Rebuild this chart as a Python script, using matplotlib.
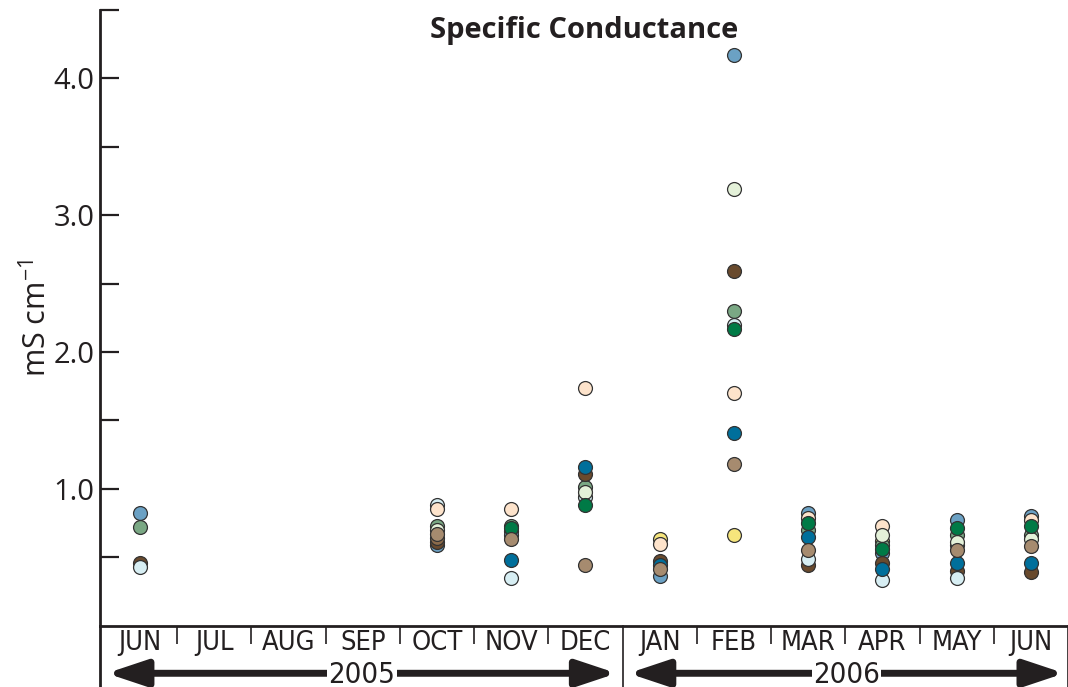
import numpy as np
import matplotlib
matplotlib.use("Agg")
import matplotlib.pyplot as plt
from matplotlib.ticker import FixedLocator

plt.rcParams['font.family'] = ['Open Sans', 'DejaVu Sans']

# meses del eje x (jun 2005 - jun 2006)
meses = ["JUN", "JUL", "AUG", "SEP", "OCT", "NOV", "DEC",
         "JAN", "FEB", "MAR", "APR", "MAY", "JUN"]
# meses con muestreo (indice de mes)
x_muestreo = [0, 4, 5, 6, 7, 8, 9, 10, 11, 12]

nan = np.nan
# conductancia especifica por sitio (mS/cm)
amarillo = [nan, nan, 0.69, nan, 0.63, 0.66, nan, 0.62, 0.59, nan]
azul_acero = [0.82, 0.59, 0.66, nan, 0.36, 4.17, 0.82, 0.53, 0.77, 0.80]
salvia = [0.72, 0.73, 0.73, 1.01, nan, 2.30, 0.70, 0.59, 0.66, 0.66]
cafe_oscuro = [0.46, 0.61, nan, 1.11, 0.47, 2.59, 0.44, 0.46, 0.40, 0.39]
celeste = [0.43, 0.88, 0.35, 0.94, nan, 2.20, 0.49, 0.33, 0.35, nan]
durazno = [nan, 0.85, 0.85, 1.74, 0.60, 1.70, 0.79, 0.73, nan, 0.77]
verde_palido = [nan, 0.70, nan, 0.98, nan, 3.19, nan, 0.66, 0.61, 0.63]
cafe_medio = [nan, 0.64, nan, nan, nan, nan, nan, nan, nan, nan]
verde_oscuro = [nan, nan, 0.71, 0.88, nan, 2.17, 0.75, 0.56, 0.71, 0.73]
petroleo = [nan, nan, 0.48, 1.16, 0.44, 1.41, 0.65, 0.41, 0.46, 0.46]
canela = [nan, 0.67, 0.63, 0.44, 0.41, 1.18, 0.55, nan, 0.55, 0.58]

series = [
    (amarillo, "#f6e57c"),
    (azul_acero, "#6ba1c4"),
    (salvia, "#7aa884"),
    (cafe_oscuro, "#694a2d"),
    (celeste, "#d7eef3"),
    (durazno, "#fde3cb"),
    (verde_palido, "#e4f1d9"),
    (cafe_medio, "#8c6b4b"),
    (verde_oscuro, "#007a46"),
    (petroleo, "#006f9b"),
    (canela, "#a68b6f"),
]

fig = plt.figure(figsize=(10.68, 6.87), dpi=100)
ax = fig.add_axes([0.0936, 0.0894, 0.9064, 0.896])

for valores, color in series:
    ax.scatter(x_muestreo, valores, s=100, color=color, edgecolor="#333333",
               linewidth=0.9, zorder=3, clip_on=False)

ax.set_xlim(-0.54, 12.5)
ax.set_ylim(0, 4.5)

for lado in ["top", "right"]:
    ax.spines[lado].set_visible(False)
ax.spines["left"].set_linewidth(2)
ax.spines["bottom"].set_linewidth(2)
ax.spines["left"].set_color("#231f20")
ax.spines["bottom"].set_color("#231f20")

# eje y
ax.yaxis.set_major_locator(FixedLocator([1, 2, 3, 4]))
ax.yaxis.set_minor_locator(FixedLocator([0.5, 1.5, 2.5, 3.5, 4.5]))
ax.set_yticklabels(["1.0", "2.0", "3.0", "4.0"], fontsize=21, color="#231f20")
ax.tick_params(axis="y", which="both", direction="in", length=14, width=1.6,
               color="#231f20", pad=4)
ax.set_ylabel(r"mS cm$^{\mathregular{-1}}$", fontsize=22, color="#231f20",
              labelpad=0)

# eje x: meses
condensada = dict(family="DejaVu Sans", stretch="condensed")
ax.set_xticks(range(len(meses)))
ax.set_xticklabels(meses, fontsize=19.5, color="#231f20", **condensada)
ax.tick_params(axis="x", which="major", length=0, pad=3)
separadores = [i + 0.5 for i in range(12) if i != 6]
ax.xaxis.set_minor_locator(FixedLocator(separadores))
ax.tick_params(axis="x", which="minor", direction="out", length=13, width=1.2,
               color="#231f20")

# lineas verticales largas (inicio, cambio de anio, final)
yb = -0.1
trans = ax.get_xaxis_transform()
ax.plot([-0.54, -0.54], [0, yb], transform=trans, color="#231f20", lw=2,
        clip_on=False)
ax.plot([6.5, 6.5], [0, yb], transform=trans, color="#231f20", lw=1.2,
        clip_on=False)
ax.plot([12.5, 12.5], [0, yb], transform=trans, color="#231f20", lw=1.2,
        clip_on=False)

# flechas de anio
ya = -0.0775
for x0, x1, anio in [(-0.45, 6.42, "2005"), (6.58, 12.45, "2006")]:
    ax.annotate("", xy=(x1, ya), xytext=(x0, ya), xycoords=trans,
                textcoords=trans,
                arrowprops=dict(arrowstyle="<|-|>,head_length=2.4,head_width=0.8",
                                lw=5, color="#231f20", shrinkA=0, shrinkB=0))
    ax.text((x0 + x1) / 2, ya - 0.002, anio, transform=trans, ha="center",
            va="center", fontsize=21, color="#231f20", **condensada,
            bbox=dict(facecolor="white", edgecolor="none", pad=1))

ax.text(0.5, 0.99, "Specific Conductance", transform=ax.transAxes,
        ha="center", va="top", fontsize=21, fontweight="bold", color="#231f20")

fig.savefig("out.png", dpi=100)
